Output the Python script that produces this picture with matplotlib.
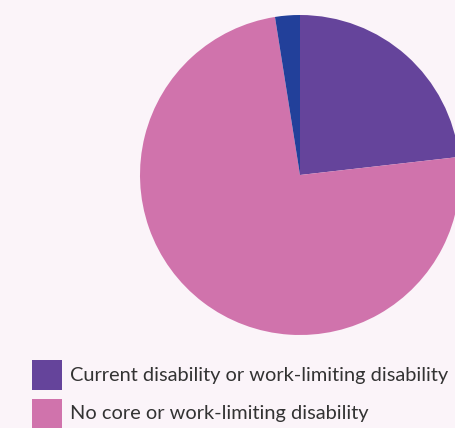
import matplotlib
matplotlib.use("Agg")
import matplotlib.pyplot as plt
from matplotlib.patches import Rectangle

labels = ["Current disability or work-limiting disability",
          "No core or work-limiting disability",
          "Not stated"]
values = [23.2, 74.3, 2.5]
colors = ["#65449B", "#D073AC", "#22409A"]
legend_count = 2

W, H = 456, 428
bg = "#FBF4F9"
fig = plt.figure(figsize=(W/100, H/100), dpi=100, facecolor=bg)

cx, cy, r = 300, 175, 160
ax = fig.add_axes([(cx - r)/W, (H - cy - r)/H, 2*r/W, 2*r/H])
ax.set_facecolor(bg)
ax.pie(values, colors=colors, startangle=90, counterclock=False,
       radius=1, wedgeprops=dict(linewidth=0))
ax.set_xlim(-1, 1)
ax.set_ylim(-1, 1)
ax.set_aspect("auto")
ax.axis("off")

sw_x, sw_y0, sw = 32, 360, 30
step = 39
for i in range(legend_count):
    y = sw_y0 + i*step
    fig.patches.append(Rectangle((sw_x/W, 1 - (y + sw)/H), sw/W, sw/H,
                                 transform=fig.transFigure, color=colors[i], lw=0))
    fig.text(70/W, 1 - (y + sw/2)/H, labels[i], fontsize=14.45, family="Lato",
             color="#333333", va="center", ha="left")

fig.savefig("out.png", dpi=100, facecolor=bg)
